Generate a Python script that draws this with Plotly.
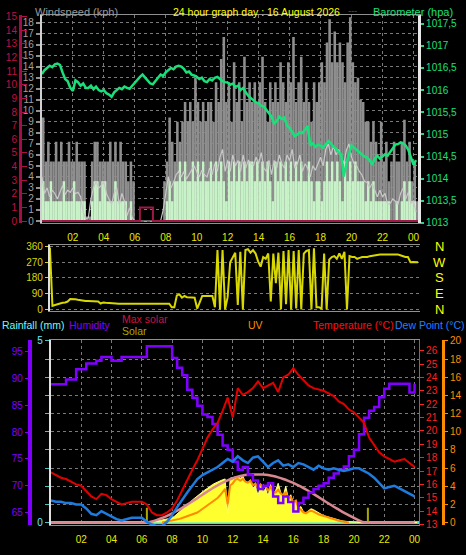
import plotly.graph_objects as go

# ---------------- data ----------------
HOURS_10 = [i / 6 for i in range(146)]   # 10-minute samples (hours since 00:00)
HOURS_20 = [i / 3 for i in range(73)]    # 20-minute samples

wind_gust = (
    [9.4, 5.4, 7.2, 5.4, 5.4, 7.2] + [5.4, 7.2, 5.4, 5.4, 7.2, 5.4] +
    [5.4, 7.2, 5.4, 5.4, 5.4, 0.4] + [0.4, 5.4, 7.2, 7.2, 5.4, 5.4] +
    [5.4, 5.4, 7.2, 5.4, 7.2, 5.4] + [7.2, 5.4, 5.4, 3.6, 5.4, 3.6] +
    [0, 0, 0, 0, 0, 0] + [0, 0, 0, 0, 0, 3.6] +
    [5.4, 9.4, 7.2, 5.4, 9.0, 7.2] + [9.0, 10.8, 9.0, 10.8, 9.0, 13.0] +
    [10.8, 9.0, 10.8, 9.0, 10.8, 10.8] + [9.0, 12.6, 10.8, 14.7, 16.7, 10.8] +
    [12.6, 9.0, 14.4, 10.8, 12.6, 9.0] + [14.9, 10.8, 12.6, 10.8, 12.6, 10.8] +
    [12.6, 14.9, 10.8, 9.0, 12.6, 10.8] + [12.6, 10.8, 14.4, 12.6, 10.8, 14.4] +
    [12.6, 16.7, 10.8, 12.6, 14.9, 10.8] + [12.6, 10.8, 9.0, 12.6, 10.8, 12.6] +
    [14.4, 12.6, 16.2, 18.3, 14.4, 17.2] + [14.4, 16.2, 14.4, 12.6, 16.2, 18.5] +
    [14.4, 12.6, 13.0, 11.0, 10.8, 9.0] + [9.0, 7.2, 9.0, 7.2, 5.4, 9.0] +
    [5.4, 7.2, 3.6, 5.4, 7.2, 5.4] + [5.4, 7.2, 9.2, 5.4, 7.2, 3.6] +
    [5.4, 1.8]
)
wind_avg = (
    [3.6, 1.8, 1.8, 3.6, 1.8, 1.8] + [1.8, 1.8, 3.6, 1.8, 1.8, 1.8] +
    [3.6, 1.8, 1.8, 1.8, 1.8, 0] + [0, 1.8, 3.6, 3.6, 1.8, 3.6] +
    [3.6, 1.8, 1.8, 1.8, 3.6, 1.8] + [1.8, 1.8, 1.8, 0, 1.8, 0] +
    [0, 0, 0, 0, 0, 0] + [0, 0, 0, 0, 0, 0] +
    [1.8, 3.6, 1.8, 3.6, 3.6, 5.4] + [3.6, 5.4, 3.6, 3.6, 5.4, 3.6] +
    [5.4, 3.6, 5.4, 3.6, 3.6, 5.4] + [3.6, 5.4, 3.6, 5.4, 3.6, 1.8] +
    [5.4, 3.6, 5.4, 3.6, 5.4, 3.6] + [5.4, 3.6, 5.4, 5.4, 3.6, 5.4] +
    [3.6, 5.4, 3.6, 5.4, 3.6, 1.8] + [5.4, 3.6, 5.4, 3.6, 5.4, 3.6] +
    [5.4, 3.6, 5.4, 3.6, 5.4, 3.6] + [3.6, 5.4, 3.6, 1.8, 3.6, 3.6] +
    [1.8, 3.6, 5.4, 3.6, 5.4, 3.6] + [5.4, 3.6, 1.8, 5.4, 3.6, 5.4] +
    [3.6, 5.4, 3.6, 3.6, 3.6, 1.8] + [3.6, 1.8, 3.6, 1.8, 1.8, 1.8] +
    [1.8, 1.8, 1.8, 0, 0, 1.8] + [0, 1.8, 3.6, 1.8, 3.6, 1.8] +
    [1.8, 0]
)
wind_speed = (
    [4.0, 2.5, 3.0, 2.2, 2.8, 2.5] + [2.0, 2.6, 3.2, 2.4, 2.8, 2.6] +
    [3.0, 2.5, 2.6, 2.2, 0.8, 0.2] + [0.3, 2.0, 3.0, 3.6, 3.0, 3.2] +
    [3.6, 2.5, 2.0, 1.5, 2.5, 3.0] + [1.5, 2.5, 1.8, 0.5, 1.2, 0.3] +
    [0, 0, 0, 0, 0, 0] + [0, 0, 0, 0, 0, 1.0] +
    [2.5, 4.0, 3.0, 3.5, 4.2, 4.5] + [4.0, 4.5, 3.8, 4.2, 4.5, 5.0] +
    [4.5, 4.0, 4.6, 4.2, 4.0, 4.8] + [4.2, 5.2, 4.5, 5.8, 6.5, 4.5] +
    [5.5, 4.5, 6.0, 5.0, 5.5, 4.5] + [6.0, 4.8, 5.5, 5.2, 5.0, 5.8] +
    [5.2, 6.2, 4.8, 4.5, 5.5, 4.2] + [5.5, 4.8, 6.0, 5.2, 4.8, 6.0] +
    [5.5, 6.5, 4.8, 5.2, 6.0, 4.5] + [5.2, 4.8, 4.0, 5.0, 4.6, 5.2] +
    [5.8, 5.0, 6.5, 7.0, 6.0, 6.8] + [6.0, 6.5, 5.8, 5.2, 6.4, 7.0] +
    [5.8, 5.2, 5.0, 4.5, 4.2, 3.6] + [3.5, 3.0, 3.4, 2.8, 2.2, 2.8] +
    [2.2, 2.5, 1.5, 1.6, 2.0, 1.8] + [1.5, 2.5, 3.0, 2.0, 2.6, 1.6] +
    [1.8, 0.8]
)
barometer = (
    [1016.36, 1016.45, 1016.50, 1016.55, 1016.52, 1016.58] +
    [1016.60, 1016.57, 1016.40, 1016.25, 1016.20, 1016.05] +
    [1015.98, 1016.22, 1016.18, 1016.10, 1016.15, 1016.05] +
    [1016.05, 1016.10, 1016.02, 1016.08, 1016.00, 1015.97] +
    [1016.00, 1015.93, 1015.90, 1015.85, 1015.95, 1016.00] +
    [1016.05, 1016.02, 1016.08, 1016.05, 1016.03, 1016.10] +
    [1016.17, 1016.22, 1016.30, 1016.35, 1016.28, 1016.20] +
    [1016.15, 1016.13, 1016.22, 1016.28, 1016.35, 1016.32] +
    [1016.40, 1016.45, 1016.50, 1016.47, 1016.53, 1016.55] +
    [1016.53, 1016.48, 1016.40, 1016.42, 1016.35, 1016.33] +
    [1016.30, 1016.25, 1016.28, 1016.20, 1016.18, 1016.25] +
    [1016.22, 1016.28, 1016.30, 1016.25, 1016.20, 1016.18] +
    [1016.17, 1016.12, 1016.15, 1016.07, 1016.10, 1016.00] +
    [1016.05, 1015.95, 1015.87, 1015.82, 1015.76, 1015.72] +
    [1015.70, 1015.65, 1015.63, 1015.55, 1015.48, 1015.40] +
    [1015.25, 1015.30, 1015.40, 1015.35, 1015.38, 1015.20] +
    [1015.15, 1015.05, 1014.96, 1015.00, 1015.05, 1015.03] +
    [1015.10, 1015.19, 1014.75, 1014.80, 1014.72, 1014.77] +
    [1014.75, 1014.70, 1014.78, 1014.85, 1014.80, 1014.72] +
    [1014.68, 1014.60, 1014.55, 1014.05, 1014.35, 1014.55] +
    [1014.75, 1014.70, 1014.65, 1014.60, 1014.55, 1014.50] +
    [1014.48, 1014.42, 1014.32, 1014.45, 1014.52, 1014.45] +
    [1014.50, 1014.55, 1014.52, 1014.60, 1014.68, 1014.77] +
    [1014.78, 1014.82, 1014.80, 1014.75, 1014.65, 1014.50] +
    [1014.32, 1014.42]
)
rain_rate_t = [0, 6.33, 7.17, 24.3]
rain_rate = [0, 1, 0, 0]

wind_dir = (
    [355, 20, 25, 30, 33, 38] + [40, 45, 60, 60, 58, 55] +
    [52, 50, 48, 48, 47, 46] + [45, 45, 34, 40, 38, 36] +
    [35, 34, 34, 33, 33, 33] + [33, 33, 33, 33, 33, 33] +
    [33, 33, 33, 33, 33, 33] + [33, 33, 33, 33, 33, 33] +
    [12, 12, 80, 86, 67, 77] + [70, 67, 68, 67, 5, 40] +
    [77, 77, 78, 77, 77, 12] + [340, 0, 340, 0, 70, 270] +
    [300, 325, 25, 330, 0, 340] + [345, 325, 340, 320, 275, 245] +
    [300, 290, 320, 45, 320, 150] + [325, 0, 335, 30, 340, 0] +
    [335, 5, 340, 0, 320, 335] + [340, 0, 350, 12, 12, 5] +
    [320, 0, 285, 300, 305, 290] + [320, 290, 330, 0, 305, 300] +
    [300, 290, 295, 300, 300, 300] + [305, 308, 312, 315, 315, 315] +
    [315, 315, 315, 315, 315, 315] + [310, 305, 300, 300, 270, 272] +
    [270, 270]
)
dir_ticks = [360, 270, 180, 90, 0]
dir_letters = ["N", "W", "S", "E", "N"]

temperature = [
    16.9, 16.7, 16.5, 16.4, 16.2, 16.0, 15.9, 15.5, 15.1, 14.9, 15.3, 15.2,
    14.9, 14.7, 14.5, 14.6, 14.7, 14.7, 14.7, 14.5, 13.9, 13.7, 13.7, 13.9,
    14.2, 14.8, 15.6, 16.4, 17.1, 17.8, 18.6, 19.5, 20.1, 20.6, 21.5, 22.5,
    21.0, 23.2, 22.7, 22.9, 23.2, 23.7, 23.2, 23.4, 23.6, 22.9, 24.0, 24.2,
    24.7, 24.2, 23.8, 23.4, 23.2, 23.1, 23.0, 22.8, 22.6, 22.2, 22.0, 21.6,
    21.4, 21.0, 20.6, 19.5, 18.9, 18.4, 18.1, 17.9, 17.7, 17.8, 17.9, 17.6,
    17.3,
]
dew_point = [
    14.8, 14.7, 14.7, 14.6, 14.6, 14.5, 14.5, 14.2, 13.8, 13.7, 14.0, 13.8,
    13.6, 13.4, 13.3, 13.4, 13.5, 13.5, 13.5, 13.2, 13.0, 12.9, 12.9, 13.2,
    13.7, 14.3, 14.9, 15.4, 15.9, 16.4, 16.7, 16.9, 17.1, 17.3, 17.6, 17.9,
    17.7, 18.1, 17.8, 17.6, 18.0, 18.1, 17.7, 17.3, 17.6, 17.8, 17.4, 17.5,
    17.3, 17.6, 17.5, 17.3, 17.1, 17.4, 17.2, 17.1, 17.2, 17.1, 17.0, 17.1,
    17.2, 17.2, 17.0, 16.8, 16.5, 16.1, 15.7, 15.8, 15.9, 15.7, 15.5, 15.3,
    15.1,
]
humidity = [
    88.9, 88.9, 88.9, 89.8, 89.8, 91.7, 91.7, 92.8, 92.8, 93.3, 94.0, 94.0,
    93.3, 93.3, 94.0, 94.0, 94.0, 94.0, 94.0, 96.0, 96.0, 96.0, 96.0, 96.0,
    93.8, 92.0, 90.6, 87.9, 86.4, 84.9, 83.3, 82.8, 81.5, 79.5, 77.5, 76.7,
    74.5, 73.0, 73.5, 72.0, 71.0, 69.4, 70.0, 70.5, 68.0, 66.8, 68.0, 67.0,
    65.2, 66.8, 67.8, 68.7, 69.4, 70.0, 70.5, 71.5, 72.3, 73.0, 73.6, 75.5,
    76.7, 79.6, 82.7, 84.0, 84.7, 86.5, 88.1, 89.0, 89.0, 89.0, 89.0, 87.4,
    89.0,
]
max_solar = [
    0, 0, 0, 0, 0, 0, 0, 0, 0, 0, 0, 0, 0, 0, 0, 0, 0, 0, 0,
    0, 20, 50, 85, 125, 170, 220, 275, 335, 395, 455, 520, 580, 640, 695,
    745, 790, 828, 858, 880, 893, 899, 900, 898, 888, 870, 845, 815, 780,
    740, 695, 645, 590, 535, 475, 415, 355, 295, 240, 185, 135, 85, 40, 5,
    0, 0, 0, 0, 0, 0, 0, 0, 0, 0,
]
solar = (
    [0] * 36 +
    [0, 0, 0, 5, 12, 20] + [28, 38, 48, 58, 68, 75] +
    [85, 120, 160, 205, 250, 290] + [320, 370, 420, 460, 500, 540] +
    [580, 610, 640, 680, 710, 735] + [760, 780, 800, 815, 170, 830] +
    [840, 855, 858, 830, 870, 760] + [735, 800, 640, 700, 500, 690] +
    [560, 640, 492, 720, 533, 600] + [735, 560, 496, 680, 450, 520] +
    [350, 420, 257, 300, 200, 184] + [220, 257, 240, 210, 184, 160] +
    [128, 115, 100, 85, 73, 60] + [45, 35, 25, 18, 12, 8] +
    [5, 3, 0, 0, 0, 0] +
    [0] * 20
)
uv = (  # no UV reading is plotted outside daylight
    [None] * 36 +
    [None] * 6 + [None, None, 0, 0.05, 0.1, 0.15] +
    [0.2, 0.25, 0.3, 0.4, 0.5, 0.6] + [0.7, 0.8, 0.9, 1.0, 1.1, 1.3] +
    [1.5, 1.7, 1.9, 2.1, 2.3, 2.5] + [2.7, 3.0, 3.3, 3.7, 2.0, 4.1] +
    [4.3, 4.7, 4.8, 4.6, 4.8, 4.5] + [4.4, 4.6, 4.1, 4.3, 3.8, 4.2] +
    [3.9, 4.0, 3.5, 3.9, 3.4, 3.3] + [3.6, 3.2, 3.0, 3.3, 2.7, 2.8] +
    [2.2, 2.4, 1.6, 1.4, 1.1, 1.0] + [1.2, 1.3, 1.2, 1.0, 0.9, 0.8] +
    [0.76, 0.65, 0.55, 0.45, 0.4, 0.3] + [0.2, 0.15, 0.1, 0.05, 0, None] +
    [None] * 6 +
    [None] * 20
)
solar_spike_t = [6.33, 20.95]
solar_spike = [275, 275]
rain_t = [0, 24.3]
rain = [0, 0]

hour_ticks = [2, 4, 6, 8, 10, 12, 14, 16, 18, 20, 22, 24]
hour_labels = ["02", "04", "06", "08", "10", "12", "14", "16", "18", "20", "22", "00"]
baro_ticks = [1013, 1013.5, 1014, 1014.5, 1015, 1015.5, 1016, 1016.5, 1017, 1017.5]
baro_labels = ["1013", "1013,5", "1014", "1014,5", "1015", "1015,5", "1016", "1016,5", "1017", "1017,5"]
rain_ticks = [0, 0.5, 1, 1.5, 2, 2.5, 3, 3.5, 4, 4.5, 5]
rain_labels = ["0", "", "", "", "", "", "", "", "", "", "5"]

# ---------------- figure ----------------
W, H = 466, 555
FONT = "Liberation Sans"


def fx(px):
    return px / W


def fy(px):
    return 1 - px / H


GRID = dict(showgrid=True, gridcolor="#7a7a7a", griddash="dot", gridwidth=1)

fig = go.Figure()

# top panel: wind
fig.add_trace(go.Bar(x=HOURS_10, y=wind_gust, width=1 / 6, offset=0,
                     marker=dict(color="#8e8e8e", line=dict(width=0)),
                     xaxis="x", yaxis="y", hoverinfo="skip"))
fig.add_trace(go.Bar(x=HOURS_10, y=wind_avg, width=1 / 6, offset=0,
                     marker=dict(color="#c8f2c8", line=dict(width=0)),
                     xaxis="x", yaxis="y", hoverinfo="skip"))
fig.add_trace(go.Scatter(x=HOURS_10, y=wind_speed, mode="lines",
                         line=dict(color="#c8c8c8", width=1.2),
                         xaxis="x", yaxis="y", hoverinfo="skip"))
fig.add_trace(go.Scatter(x=rain_rate_t, y=rain_rate, mode="lines", line_shape="hv",
                         line=dict(color="#a01848", width=2),
                         xaxis="x", yaxis="y2", hoverinfo="skip"))
fig.add_trace(go.Scatter(x=HOURS_10, y=barometer, mode="lines",
                         line=dict(color="#19e07a", width=2.5),
                         xaxis="x", yaxis="y3", hoverinfo="skip"))

# middle panel: wind direction
fig.add_trace(go.Scatter(x=HOURS_10, y=wind_dir, mode="lines",
                         line=dict(color="#d8d800", width=2),
                         xaxis="x2", yaxis="y4", hoverinfo="skip"))

# bottom panel
fig.add_trace(go.Scatter(x=rain_t, y=rain, mode="lines",
                         line=dict(color="#30e8ff", width=3),
                         xaxis="x3", yaxis="y5", hoverinfo="skip"))
fig.add_trace(go.Scatter(x=HOURS_10, y=solar, mode="lines", fill="tozeroy",
                         fillcolor="#ffff30", line=dict(color="#ffff80", width=1),
                         xaxis="x3", yaxis="y6", hoverinfo="skip"))
fig.add_trace(go.Bar(x=solar_spike_t, y=solar_spike, width=0.07,
                     marker=dict(color="#a8a800", line=dict(width=0)),
                     xaxis="x3", yaxis="y6", hoverinfo="skip"))
fig.add_trace(go.Scatter(x=HOURS_20, y=max_solar, mode="lines",
                         line=dict(color="#d88890", width=2.5, shape="spline"),
                         xaxis="x3", yaxis="y6", hoverinfo="skip"))
fig.add_trace(go.Scatter(x=HOURS_10, y=uv, mode="lines",
                         line=dict(color="#ff8c00", width=2),
                         xaxis="x3", yaxis="y7", hoverinfo="skip"))
fig.add_trace(go.Scatter(x=HOURS_20, y=humidity, mode="lines", line_shape="hv",
                         line=dict(color="#8000ff", width=2.5),
                         xaxis="x3", yaxis="y8", hoverinfo="skip"))
fig.add_trace(go.Scatter(x=HOURS_20, y=dew_point, mode="lines",
                         line=dict(color="#1e7be0", width=2.5),
                         xaxis="x3", yaxis="y9", hoverinfo="skip"))
fig.add_trace(go.Scatter(x=HOURS_20, y=temperature, mode="lines",
                         line=dict(color="#e00000", width=2),
                         xaxis="x3", yaxis="y9", hoverinfo="skip"))

tickfont = dict(family=FONT, size=10)

fig.update_layout(
    width=W, height=H, autosize=False,
    margin=dict(l=0, r=0, t=0, b=0),
    paper_bgcolor="black", plot_bgcolor="black",
    showlegend=False, barmode="overlay",
    font=dict(family=FONT, size=10, color="#cccccc"),
    # ---- top panel ----
    xaxis=dict(domain=[fx(42), fx(419)], range=[0, 24.3], anchor="y",
               tickvals=hour_ticks, ticktext=hour_labels,
               tickfont=dict(tickfont, color="#e8e800"),
               ticks="outside", ticklen=5, tickcolor="rgba(0,0,0,0)",
               showline=True, linecolor="#909090", linewidth=1, mirror=True,
               zeroline=False, **GRID),
    yaxis=dict(domain=[fy(222), fy(10)], range=[-0.18, 18.71], anchor="x",
               tickvals=list(range(0, 19)),
               tickfont=dict(tickfont, color="#a0a0a0"),
               ticks="outside", ticklen=4, tickcolor="#909090", tickwidth=2,
               showline=True, linecolor="#d0d0d0", linewidth=2,
               zeroline=False, **GRID),
    yaxis2=dict(overlaying="y", anchor="free", position=fx(20), side="left",
                range=[-0.144, 15.14], tickvals=list(range(0, 16)),
                tickfont=dict(tickfont, color="#c01048"),
                ticks="inside", ticklen=5, tickcolor="#b01048",
                showline=True, linecolor="#a01048", linewidth=3,
                showgrid=False, zeroline=False),
    yaxis3=dict(overlaying="y", anchor="x", side="right",
                range=[1013.0, 1017.7], tickvals=baro_ticks, ticktext=baro_labels,
                tickfont=dict(tickfont, color="#19e07a"),
                ticks="outside", ticklen=3, tickcolor="#19e07a", tickwidth=2,
                showline=True, linecolor="#e8e8e8", linewidth=3,
                showgrid=False, zeroline=False),
    # ---- middle panel ----
    xaxis2=dict(domain=[fx(50), fx(421)], range=[0, 24.3], anchor="y4",
                showticklabels=False, ticks="", showgrid=False,
                showline=True, linecolor="#909090", linewidth=1, mirror=True,
                zeroline=False),
    yaxis4=dict(domain=[fy(312), fy(244)], range=[-11.25, 371.25], anchor="x2",
                tickvals=[0, 90, 180, 270, 360],
                tickfont=dict(tickfont, color="#d8d800"),
                ticks="outside", ticklen=3, tickcolor="#d8d800",
                showline=True, linecolor="#e0e0e0", linewidth=2,
                zeroline=False, **GRID),
    # ---- bottom panel ----
    xaxis3=dict(domain=[fx(51), fx(420)], range=[0, 24.3], anchor="y5",
                tickvals=hour_ticks, ticktext=hour_labels,
                tickfont=dict(tickfont, color="#e8e800"),
                ticks="outside", ticklen=5, tickcolor="rgba(0,0,0,0)",
                showline=True, linecolor="#909090", linewidth=1, mirror=True,
                zeroline=False, **GRID),
    yaxis5=dict(domain=[fy(530), fy(341)], range=[-0.081, 5.027], anchor="x3",
                tickvals=rain_ticks, ticktext=rain_labels,
                tickfont=dict(tickfont, color="#60f0ff"),
                ticks="outside", ticklen=4, tickcolor="#50c0c8",
                showline=True, linecolor="#e0e0e0", linewidth=2,
                zeroline=False, **GRID),
    yaxis6=dict(overlaying="y5", anchor="x3", range=[-55.1, 3418.4],
                visible=False, showgrid=False, zeroline=False),
    yaxis7=dict(overlaying="y5", anchor="free", position=fx(444), side="right",
                range=[-0.324, 20.108], tickvals=list(range(0, 21, 2)),
                tickfont=dict(tickfont, color="#ff8c00"),
                ticks="outside", ticklen=3, tickcolor="#ff8c00",
                showline=True, linecolor="#ff8c00", linewidth=3,
                showgrid=False, zeroline=False),
    yaxis8=dict(overlaying="y5", anchor="free", position=fx(30), side="left",
                range=[62.62, 97.19], tickvals=[65, 70, 75, 80, 85, 90, 95],
                tickfont=dict(tickfont, color="#8000ff"),
                ticks="outside", ticklen=3, tickcolor="#8000ff",
                showline=True, linecolor="#8000ff", linewidth=4,
                showgrid=False, zeroline=False),
    yaxis9=dict(overlaying="y5", anchor="x3", side="right",
                range=[12.93, 26.81], tickvals=list(range(13, 27)),
                tickfont=dict(tickfont, color="#ff2020"),
                ticks="outside", ticklen=4, tickcolor="#ff2020",
                showline=True, linecolor="#ff3030", linewidth=1,
                showgrid=False, zeroline=False),
)

annotations = []


def label(text, x, y, color, size=11, anchor="left"):
    annotations.append(dict(text=text, x=fx(x), y=fy(y), xref="paper", yref="paper",
                            xanchor=anchor, yanchor="middle", showarrow=False,
                            font=dict(family=FONT, size=size, color=color)))


label("Windspeed (kph)", 33, 7, "#9a9a9a", 11)
label("24 hour graph day : 16 August 2026", 171, 7, "#ffff00", 10.5)
label("---", 347, 6, "#e01040", 9)
label("Barometer (hpa)", 372, 7, "#19e07a", 11)
label("Rainfall (mm)", 0, 326, "#70f8ff", 10.5)
label("Humidity", 67, 326, "#8000ff", 10.5)
label("Max solar", 120, 320, "#d01040", 10.5)
label("Solar", 120, 332, "#a8a800", 10.5)
label("UV", 247, 326, "#ff8c00", 10.5)
label("Temperature (°C)", 312, 326, "#ff1010", 10.5)
label("Dew Point (°C)", 394, 326, "#2080ff", 10.5)

for t, letter in zip(dir_ticks, dir_letters):
    annotations.append(dict(text=letter, x=fx(440), y=t, xref="paper", yref="y4",
                            xanchor="center", yanchor="middle", showarrow=False,
                            font=dict(family=FONT, size=13, color="#ffff00")))

fig.update_layout(annotations=annotations)

fig.write_html(
    "out.html",
    config={"displayModeBar": False},
    post_script="document.body.style.margin='0';document.body.style.overflow='hidden';",
)
